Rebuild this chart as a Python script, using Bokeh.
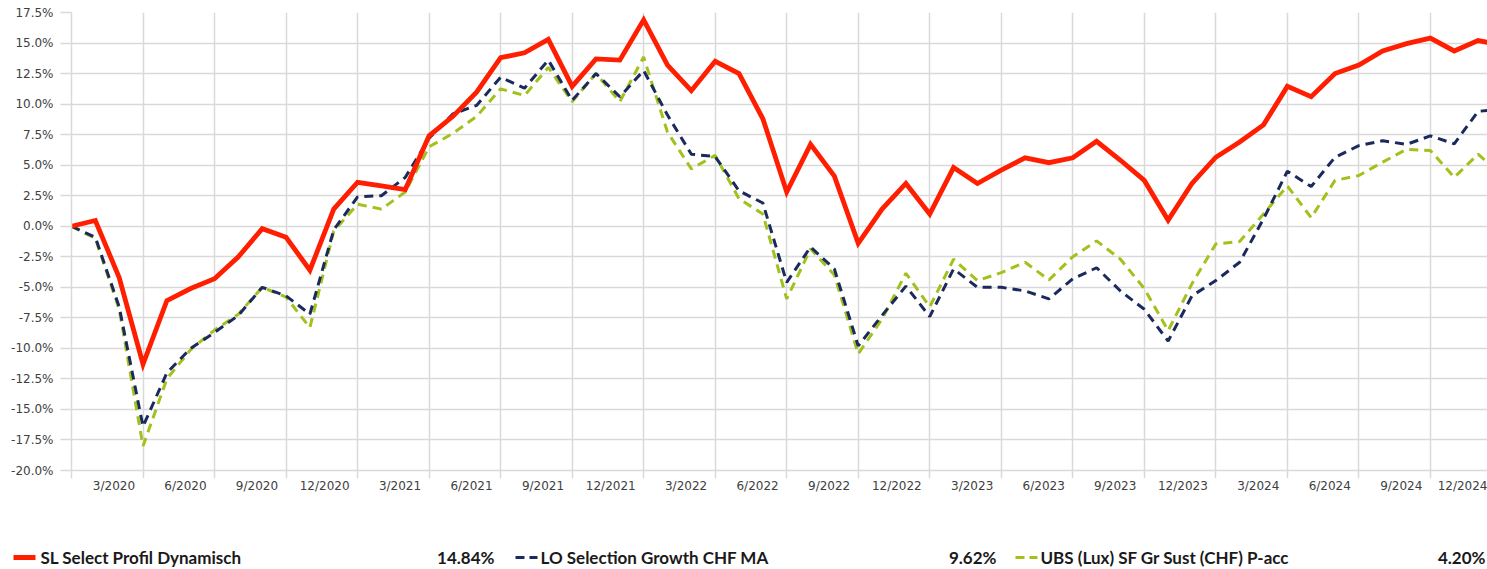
from bokeh.plotting import figure
from bokeh.models import FixedTicker, PrintfTickFormatter, Range1d, CustomJSTickFormatter
from bokeh.embed import file_html
from bokeh.resources import INLINE
from bokeh.core.properties import value

# ---------------- data (cumulative performance, %, monthly from 12/2019) ----------------
series_names = ["SL Select Profil Dynamisch", "LO Selection Growth CHF MA", "UBS (Lux) SF Gr Sust (CHF) P-acc"]

sl_select = [0.0, 0.47, -4.2, -11.3, -6.1, -5.1, -4.3, -2.5, -0.2, -0.9,
             -3.6, 1.4, 3.6, 3.3, 3.0, 7.4, 9.0, 11.0, 13.8, 14.2,
             15.3, 11.45, 13.7, 13.6, 16.9, 13.2, 11.1, 13.5, 12.5, 8.8,
             2.8, 6.7, 4.1, -1.4, 1.4, 3.5, 1.0, 4.8, 3.5, 4.6,
             5.6, 5.2, 5.6, 6.95, 5.4, 3.75, 0.5, 3.5, 5.65, 6.9,
             8.3, 11.45, 10.6, 12.5, 13.2, 14.35, 14.95, 15.4, 14.35, 15.2,
             14.84]

lo_growth = [0.0, -0.9, -6.6, -16.4, -12.0, -10.0, -8.7, -7.3, -5.0, -5.7,
             -7.2, -0.3, 2.4, 2.5, 4.0, 7.2, 9.2, 9.9, 12.2, 11.3,
             13.6, 10.3, 12.5, 10.6, 12.75, 9.1, 5.9, 5.7, 2.9, 1.9,
             -4.6, -1.7, -3.5, -9.8, -7.3, -4.9, -7.4, -3.5, -5.0, -5.0,
             -5.3, -5.95, -4.3, -3.4, -5.3, -6.8, -9.4, -5.7, -4.45, -2.95,
             0.6, 4.5, 3.25, 5.65, 6.6, 7.0, 6.7, 7.4, 6.75, 9.4,
             9.62]

ubs_sust = [0.0, -1.0, -6.8, -18.0, -12.5, -10.1, -8.5, -7.2, -5.0, -5.8,
            -8.3, -0.4, 1.8, 1.4, 2.8, 6.5, 7.6, 9.0, 11.25, 10.7,
            13.0, 10.2, 12.5, 10.2, 13.85, 7.7, 4.7, 5.8, 2.25, 1.0,
            -5.95, -1.85, -4.0, -10.45, -7.6, -3.85, -6.6, -2.7, -4.45, -3.8,
            -2.95, -4.4, -2.5, -1.2, -2.7, -5.1, -8.55, -4.7, -1.45, -1.25,
            1.0, 3.3, 0.7, 3.75, 4.15, 5.25, 6.3, 6.2, 4.0, 5.9,
            4.20]

x_labels = ["3/2020", "6/2020", "9/2020", "12/2020", "3/2021", "6/2021", "9/2021", "12/2021",
            "3/2022", "6/2022", "9/2022", "12/2022", "3/2023", "6/2023", "9/2023", "12/2023",
            "3/2024", "6/2024", "9/2024", "12/2024"]

y_ticks = [-20.0, -17.5, -15.0, -12.5, -10.0, -7.5, -5.0, -2.5, 0.0, 2.5, 5.0, 7.5, 10.0, 12.5, 15.0, 17.5]

# ---------------- styling ----------------
RED = "#ff1f00"
NAVY = "#1b2a5c"
GREEN = "#a2c11c"
GRID = "#d9d9d9"
TXT = "#404040"

months = list(range(len(sl_select)))
PX_PER_MONTH = 23.84
frame_w = 1416

p = figure(width=1487, height=510,
           x_range=Range1d(0, frame_w / PX_PER_MONTH),
           y_range=Range1d(-20.655, 17.5),
           output_backend="svg", toolbar_location=None,
           min_border_left=71, min_border_right=0, min_border_top=12, min_border_bottom=32)
p.outline_line_color = None
p.background_fill_color = "white"
p.border_fill_color = "white"

# grids
p.xgrid.ticker = FixedTicker(ticks=list(range(0, 61, 3)))
p.xgrid.grid_line_color = GRID
p.xgrid.grid_line_width = 1.5
p.ygrid.ticker = FixedTicker(ticks=y_ticks)
p.ygrid.grid_line_color = GRID
p.ygrid.grid_line_width = 1.5

# y axis
p.yaxis.ticker = FixedTicker(ticks=y_ticks)
p.yaxis.formatter = PrintfTickFormatter(format="%.1f%%")
p.yaxis.axis_line_color = GRID
p.yaxis.axis_line_width = 1.5
p.yaxis.major_tick_line_color = GRID
p.yaxis.major_tick_line_width = 1.5
p.yaxis.major_tick_out = 11
p.yaxis.major_tick_in = 0
p.yaxis.minor_tick_line_color = None
p.yaxis.major_label_standoff = 7
p.yaxis.major_label_text_font = "DejaVu Sans"
p.yaxis.major_label_text_font_size = "12px"
p.yaxis.major_label_text_color = TXT

# x axis: labels sit left of each quarter gridline (right edge ~8px before it)
label_pos = []
for k, lbl in enumerate(x_labels):
    w = 7.63 * (len(lbl) - 1) + 4.04
    label_pos.append(3 * (k + 1) - (8 + w / 2) / PX_PER_MONTH)
p.xaxis.ticker = FixedTicker(ticks=label_pos)
p.xaxis.formatter = CustomJSTickFormatter(args=dict(labs=x_labels),
                                          code="return labs[Math.round((tick + 1.3) / 3) - 1];")
p.xaxis.axis_line_color = None
p.xaxis.major_tick_line_color = None
p.xaxis.minor_tick_line_color = None
p.xaxis.major_tick_out = 0
p.xaxis.major_tick_in = 0
p.xaxis.major_label_standoff = 0
p.xaxis.major_label_text_font = "DejaVu Sans"
p.xaxis.major_label_text_font_size = "12px"
p.xaxis.major_label_text_color = TXT

# lines
p.line(months, ubs_sust, line_color=GREEN, line_width=3, line_dash="9 6")
p.line(months, lo_growth, line_color=NAVY, line_width=3, line_dash="9 6")
p.line(months, sl_select, line_color=RED, line_width=4.8, line_join="miter")

# ---------------- legend strip (separate root so its frame spans the full width) ----------------
leg = figure(width=1487, height=59, x_range=Range1d(0, 1487), y_range=Range1d(0, 59),
             output_backend="svg", toolbar_location=None, x_axis_type=None, y_axis_type=None,
             min_border=0)
leg.outline_line_color = None
leg.grid.visible = False

finals = [sl_select[-1], lo_growth[-1], ubs_sust[-1]]
colors = [RED, NAVY, GREEN]
value_right = [494, 996, 1485]
ly = 12
for i, (name, fv, c) in enumerate(zip(series_names, finals, colors)):
    x0 = 500 * i
    if i == 0:
        leg.line([x0 + 13, x0 + 35], [ly, ly], line_color=c, line_width=4.8)
    else:
        leg.line([x0 + 15, x0 + 37], [ly, ly], line_color=c, line_width=3, line_dash="9 5")
    leg.text([x0 + 40], [ly], text=[name], text_font=value("Lato"), text_font_style="bold",
             text_font_size="17px", text_color="#1a1a1a", text_baseline="middle", text_align="left")
    leg.text([value_right[i]], [ly], text=[f"{fv:.2f}%"], text_font=value("Lato"), text_font_style="bold",
             text_font_size="17px", text_color="#1a1a1a", text_baseline="middle", text_align="right")

open("out.html", "w").write(file_html([p, leg], INLINE))
